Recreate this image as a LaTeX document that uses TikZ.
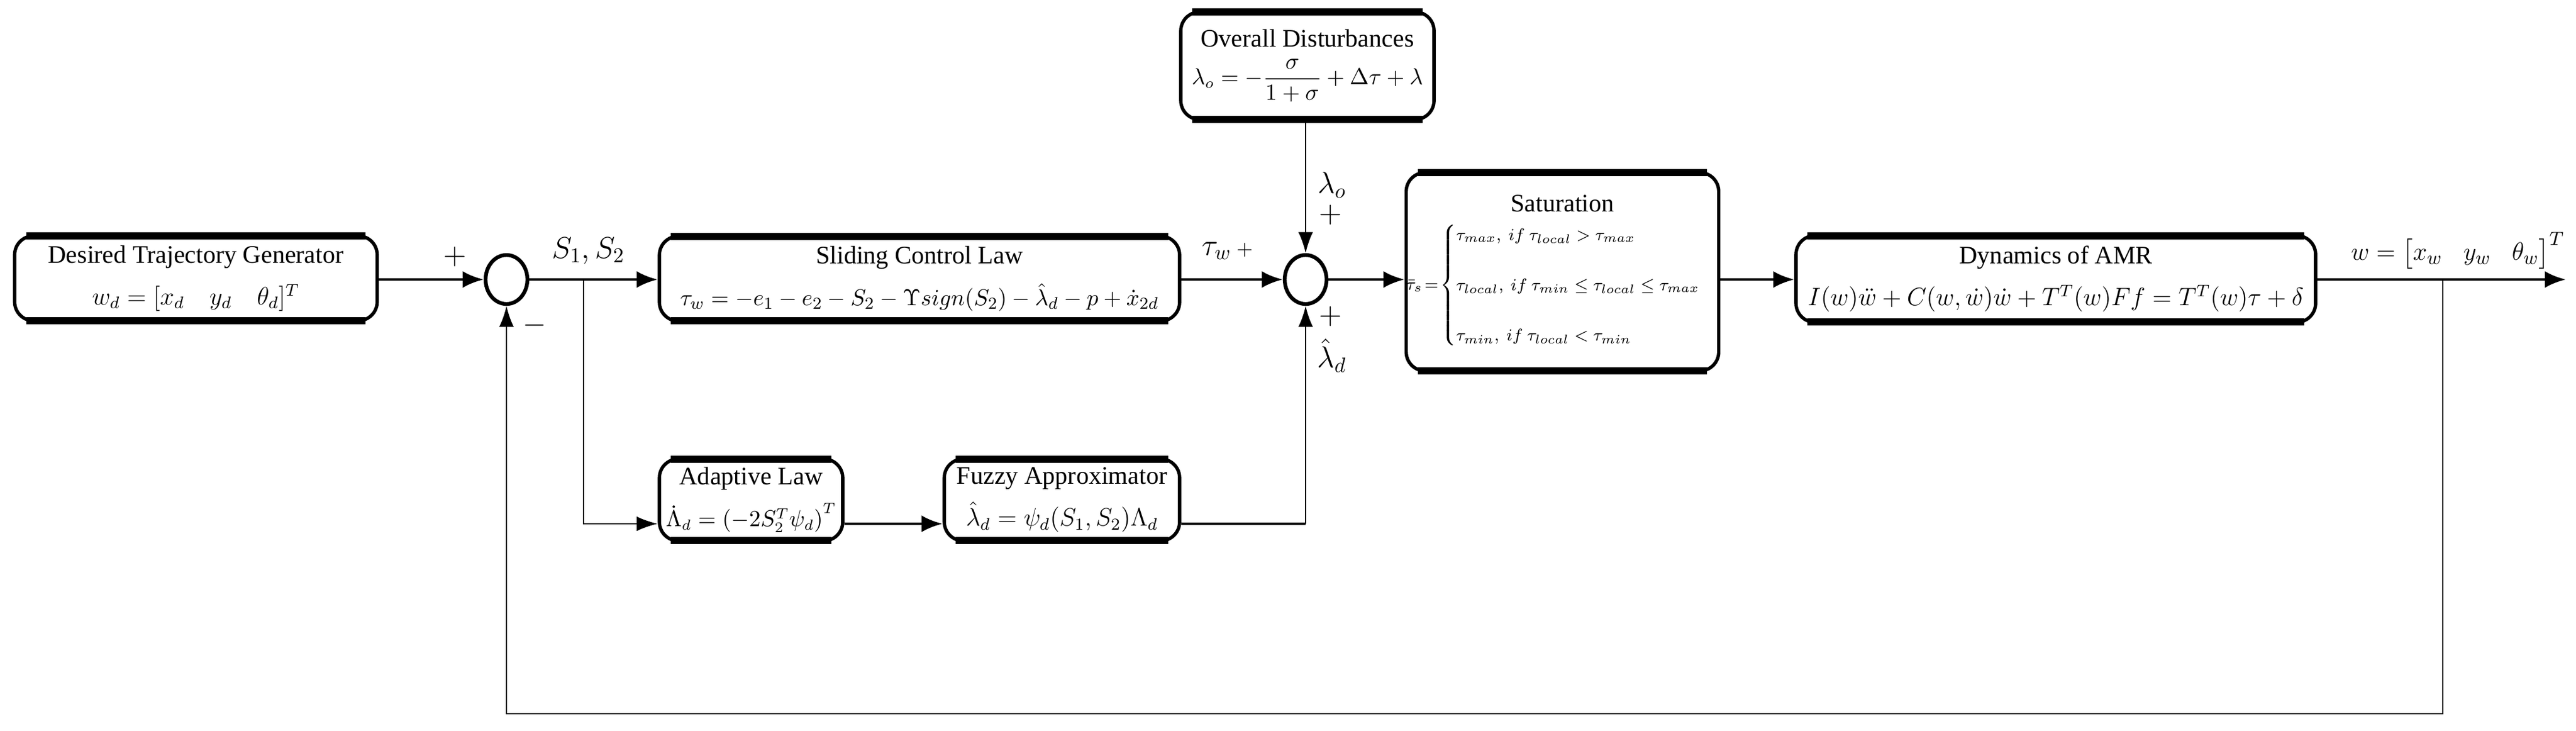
\documentclass[tikz,border=0pt]{standalone}
\usepackage{amsmath}
\usepackage{fontspec}
\setmainfont{Liberation Serif}
\usetikzlibrary{arrows.meta,calc,shapes.geometric}
\newcommand{\edgebars}[1]{%
  \draw[line width=3.5pt] ($(#1.north west)+(0.22,-0.03)$) -- ($(#1.north east)+(-0.22,-0.03)$);
  \draw[line width=3.5pt] ($(#1.south west)+(0.22,0.03)$) -- ($(#1.south east)+(-0.22,0.03)$);}
\tikzset{
  blk/.style={draw, rounded corners=9pt, line width=1.6pt, align=center, inner sep=0pt,
    font=\fontsize{12}{16}\selectfont},
  sum/.style={draw, ellipse, line width=1.8pt, minimum width=0.7cm, minimum height=0.82cm, inner sep=0pt},
  sig/.style={line width=1.4pt, -{Latex[length=10pt,width=8pt]}},
  fb/.style={line width=0.8pt, -{Latex[length=10pt,width=7pt]}},
  lbl/.style={font=\fontsize{14}{16}\selectfont}
}
\begin{document}
\begin{tikzpicture}
\useasboundingbox (0,0) rectangle (43.13,-12.23);
% blocks
\node[blk, minimum width=6.07cm, minimum height=1.42cm] (des) at (3.28,-4.66)
  {Desired Trajectory Generator\\[4pt] \large $w_d=[x_d\quad y_d\quad \theta_d]^T$};
\node[sum] (s1) at (8.48,-4.68) {};
\node[blk, minimum width=8.71cm, minimum height=1.42cm] (slc) at (15.395,-4.665)
  {Sliding Control Law\\[4pt] \fontsize{11}{13}\selectfont $\tau_w=-e_1-e_2-S_2-\Upsilon sign(S_2)-\hat\lambda_d-p+\dot x_{2d}$};
\node[blk, minimum width=4.24cm, minimum height=1.8cm] (dis) at (21.89,-1.1)
  {Overall Disturbances\\[2pt] \fontsize{10.5}{13}\selectfont $\lambda_o=-\dfrac{\sigma}{1+\sigma}+\Delta\tau+\lambda$};
\node[sum] (s2) at (21.86,-4.68) {};
\node[blk, minimum width=4.32cm, minimum height=3.32cm] (sat) at (26.16,-4.55)
  {Saturation\\[4pt] \fontsize{8}{10}\selectfont $\bar\tau_s\!=\!\begin{cases}\tau_{max},\ if\ \tau_{local}>\tau_{max}\\[12pt]
   \tau_{local},\ if\ \tau_{min}\le\tau_{local}\le\tau_{max}\\[12pt]
   \tau_{min},\ if\ \tau_{local}<\tau_{min}\end{cases}$};
\node[blk, minimum width=8.7cm, minimum height=1.45cm] (dyn) at (34.42,-4.67)
  {Dynamics of AMR\\[4pt] \large $I(w)\ddot w+C(w,\dot w)\dot w+T^T(w)Ff=T^T(w)\tau+\delta$};
\node[blk, minimum width=3.07cm, minimum height=1.37cm] (ada) at (12.575,-8.37)
  {Adaptive Law\\[4pt] \fontsize{10.5}{13}\selectfont $\dot\Lambda_d=\left(-2S_2^T\psi_d\right)^T$};
\node[blk, minimum width=3.94cm, minimum height=1.37cm] (fuz) at (17.78,-8.37)
  {Fuzzy Approximator\\[4pt] \large $\hat\lambda_d=\psi_d(S_1,S_2)\Lambda_d$};
\foreach \n in {des,slc,dis,sat,dyn,ada,fuz} {\edgebars{\n}}
% coordinates
\coordinate (tap) at (9.77,-4.68);
\coordinate (out) at (42.96,-4.68);
\coordinate (otap) at (40.9,-4.68);
\coordinate (fbr) at (40.9,-11.95);
\coordinate (fbl) at (8.48,-11.95);
\coordinate (fzc) at (21.86,-8.77);
% connectors
\draw[sig] (des.east |- s1) -- (s1.west);
\draw[sig] (s1.east) -- (slc.west |- s1);
\draw[sig] (slc.east |- s2) -- (s2.west);
\draw[sig] (s2.east) -- (sat.west |- s2);
\draw[sig] (sat.east |- s2) -- (dyn.west |- s2);
\draw[sig] (dyn.east |- s2) -- (out);
\draw[fb] (dis.south -| s2) -- (s2.north);
\draw[fb] (tap) |- (ada.west |- fzc);
\draw[sig] (ada.east |- fzc) -- (fuz.west |- fzc);
\draw[line width=1.4pt] (fuz.east |- fzc) -- (fzc);
\draw[fb] (fzc) -- (s2.south);
\draw[fb] (otap) -- (fbr) -- (fbl) -- (s1.south);
% labels
\node[lbl] (p1) at (7.62,-4.3) {$+$};
\node[lbl] (m1) at (8.95,-5.45) {$-$};
\node[lbl] (ls) at (9.85,-4.2) {$S_1,S_2$};
\node[lbl] (lt) at (20.55,-4.2) {\Large$\tau_w$\,\normalsize$+$};
\node[lbl] (lo) at (22.3,-3.1) {$\lambda_o$};
\node[lbl] (p2) at (22.28,-3.6) {$+$};
\node[lbl] (p3) at (22.28,-5.3) {$+$};
\node[lbl] (ld) at (22.3,-5.95) {$\hat\lambda_d$};
\node[lbl, font=\fontsize{13}{15}\selectfont] (lw) at (41.15,-4.2) {$w=\begin{bmatrix}x_w & y_w & \theta_w\end{bmatrix}^T$};
\end{tikzpicture}
\end{document}
